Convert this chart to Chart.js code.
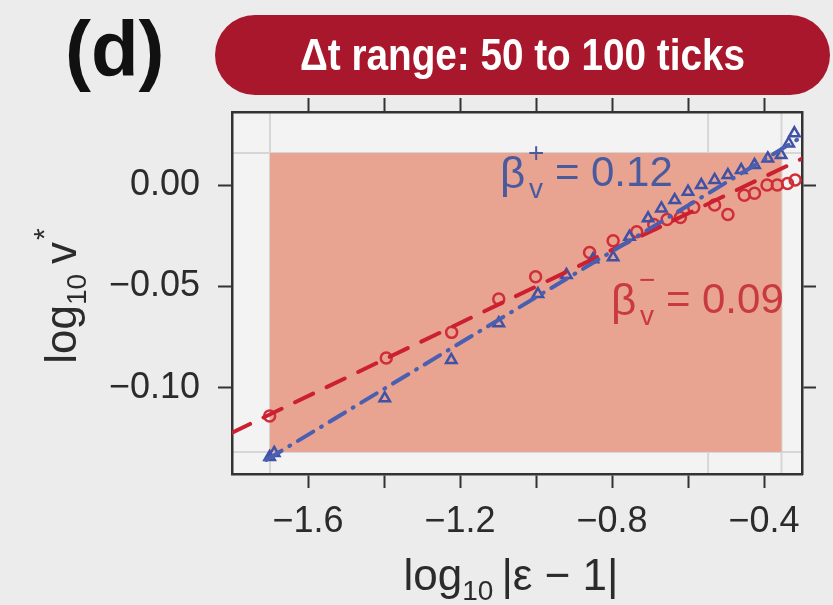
<!DOCTYPE html>
<html>
<head>
<meta charset="utf-8">
<script src="https://cdn.jsdelivr.net/npm/chart.js@4.4.0/dist/chart.umd.min.js"></script>
<style>
  html, body { margin: 0; padding: 0; background: #ececec; }
</style>
</head>
<body>
<canvas id="chart" width="833" height="605"></canvas>
<script>
// data (log10 |eps - 1| vs log10 v*)
var RED_X = [-1.701, -1.394, -1.222, -1.098, -1.001, -0.859, -0.797, -0.735, -0.690, -0.655, -0.620, -0.585, -0.530, -0.495, -0.452, -0.425, -0.392, -0.365, -0.338, -0.318];
var RED_Y = [-0.1138, -0.0852, -0.0726, -0.0562, -0.0452, -0.0332, -0.0274, -0.0230, -0.0195, -0.0170, -0.0160, -0.0110, -0.0098, -0.0145, -0.0050, -0.0040, 0.0000, 0.0000, 0.0008, 0.0025];

var BLUE_X = [-1.701, -1.689, -1.398, -1.223, -1.098, -0.995, -0.920, -0.850, -0.797, -0.754, -0.705, -0.670, -0.635, -0.600, -0.565, -0.530, -0.495, -0.460, -0.425, -0.390, -0.355, -0.335, -0.320];
var BLUE_Y = [-0.1340, -0.1320, -0.1051, -0.0862, -0.0681, -0.0537, -0.0443, -0.0366, -0.0356, -0.0255, -0.0164, -0.0115, -0.0074, -0.0033, 0.0000, 0.0025, 0.0049, 0.0074, 0.0099, 0.0131, 0.0148, 0.0205, 0.0255];

// fitted power-law lines
var FIT_RED_X = [-1.80, -0.30];
var FIT_RED_Y = [-0.1220, 0.0130];
var FIT_BLUE_X = [-1.71, -0.30];
var FIT_BLUE_Y = [-0.1355, 0.0238];

// shaded fitting window and faint guides
var RANGE_X = [-1.700, -0.354];
var RANGE_Y = [-0.1315, 0.0158];
var GUIDE_X = [-1.700, -0.547, -0.354];
var GUIDE_Y = [-0.1315, 0.0158];

var X_LABELS = [-1.6, -1.2, -0.8, -0.4];
var BETA_PLUS = '0.12';
var BETA_MINUS = '0.09';
var HEADER = '\u0394t range: 50 to 100 ticks';
var PANEL = '(d)';

var FONT = "'Liberation Sans', Arial, sans-serif";
var TXT = '#2b2b2b';
var RED = '#cf2d38';
var BLUE = '#3f52a6';

function toPoints(xs, ys) {
    var pts = [];
    for (var i = 0; i < xs.length; i++) {
        pts.push({x: xs[i], y: ys[i]});
    }
    return pts;
}

function minus(s) {
    return s.replace('-', '\u2212');
}

// draws pieces of text in a row, each with own size and vertical shift
function richText(ctx, parts, x, y, align) {
    var total = 0;
    parts.forEach(function (p) {
        ctx.font = (p.bold ? 'bold ' : '') + p.size + 'px ' + FONT;
        p.w = ctx.measureText(p.t).width;
        total += p.w + (p.gap || 0);
    });
    var cx = align === 'center' ? x - total / 2 : x;
    ctx.textAlign = 'left';
    ctx.textBaseline = 'alphabetic';
    parts.forEach(function (p) {
        ctx.font = (p.bold ? 'bold ' : '') + p.size + 'px ' + FONT;
        ctx.fillText(p.t, cx + (p.dx || 0), y + (p.dy || 0));
        cx += p.w + (p.gap || 0);
    });
}

function drawBeta(ctx, x, y, sign, value, color) {
    ctx.fillStyle = color;
    ctx.textAlign = 'left';
    ctx.textBaseline = 'alphabetic';
    ctx.font = '44px ' + FONT;
    ctx.fillText('\u03b2', x, y + 2);
    ctx.font = '28px ' + FONT;
    ctx.fillText(sign, x + 28, y - 24);
    ctx.fillText('v', x + 29, y + 12);
    ctx.font = '42px ' + FONT;
    ctx.fillText('=', x + 55, y);
    ctx.fillText(value, x + 91, y);
}

var decor = {
    id: 'decor',
    beforeDraw: function (chart) {
        var ctx = chart.ctx, a = chart.chartArea;
        var sx = chart.scales.x, sy = chart.scales.y;
        ctx.save();
        ctx.fillStyle = '#ececec';
        ctx.fillRect(0, 0, chart.width, chart.height);
        ctx.fillStyle = '#f3f3f3';
        ctx.fillRect(a.left, a.top, a.right - a.left, a.bottom - a.top);

        // faint guide lines
        ctx.strokeStyle = '#d6d6d6';
        ctx.lineWidth = 2;
        GUIDE_X.forEach(function (v) {
            var px = sx.getPixelForValue(v);
            ctx.beginPath();
            ctx.moveTo(px, a.top);
            ctx.lineTo(px, a.bottom);
            ctx.stroke();
        });
        GUIDE_Y.forEach(function (v) {
            var py = sy.getPixelForValue(v);
            ctx.beginPath();
            ctx.moveTo(a.left, py);
            ctx.lineTo(a.right, py);
            ctx.stroke();
        });

        // shaded window
        var x0 = sx.getPixelForValue(RANGE_X[0]), x1 = sx.getPixelForValue(RANGE_X[1]);
        var y0 = sy.getPixelForValue(RANGE_Y[1]), y1 = sy.getPixelForValue(RANGE_Y[0]);
        ctx.fillStyle = '#e8a391';
        ctx.fillRect(x0, y0, x1 - x0, y1 - y0);

        // header pill
        var bx = 215, by = 15, bw = 615, bh = 80, r = 40;
        ctx.fillStyle = '#a8172b';
        ctx.beginPath();
        ctx.roundRect(bx, by, bw, bh, r);
        ctx.fill();
        ctx.save();
        ctx.translate(bx + bw / 2, by + bh / 2 + 3);
        ctx.scale(0.86, 1);
        ctx.fillStyle = '#ffffff';
        ctx.font = 'bold 45px ' + FONT;
        ctx.textAlign = 'center';
        ctx.textBaseline = 'middle';
        ctx.fillText(HEADER, 0, 0);
        ctx.restore();

        // panel letter
        ctx.fillStyle = '#111111';
        ctx.font = 'bold 78px ' + FONT;
        ctx.textAlign = 'left';
        ctx.textBaseline = 'alphabetic';
        ctx.fillText(PANEL, 65, 76);
        ctx.restore();
    },
    afterDatasetsDraw: function (chart) {
        var ctx = chart.ctx;
        ctx.save();
        drawBeta(ctx, 500, 186, '+', BETA_PLUS, '#4a5a9e');
        drawBeta(ctx, 611, 313, '\u2212', BETA_MINUS, '#c83a40');
        ctx.restore();
    },
    afterDraw: function (chart) {
        var ctx = chart.ctx;
        ctx.save();
        ctx.fillStyle = TXT;
        richText(ctx, [
            {t: 'log', size: 44},
            {t: '10', size: 28, dy: 10, gap: 8},
            {t: '|\u03b5 \u2212 1|', size: 44}
        ], 511, 590, 'center');

        ctx.translate(76, 296);
        ctx.rotate(-Math.PI / 2);
        richText(ctx, [
            {t: 'log', size: 44},
            {t: '10', size: 28, dy: 10, gap: 10},
            {t: 'v', size: 44, gap: 2},
            {t: '*', size: 30, dy: -22}
        ], 0, 0, 'center');
        ctx.restore();
    }
};

function xTickColor(c) {
    return c.tick && c.tick.value < -1.75 ? 'rgba(0,0,0,0)' : '#333333';
}

var xLabel = function (v) {
    for (var i = 0; i < X_LABELS.length; i++) {
        if (Math.abs(v - X_LABELS[i]) < 1e-6) return minus(v.toFixed(1));
    }
    return '';
};

var ctx = document.getElementById('chart');
var myChart = new Chart(ctx, {
    type: 'scatter',
    data: {
        datasets: [
            {
                type: 'line',
                label: 'fit +',
                data: toPoints(FIT_BLUE_X, FIT_BLUE_Y),
                borderColor: '#4a5fb0',
                borderWidth: 4,
                borderDash: [18, 9, 1, 9],
                borderCapStyle: 'round',
                pointRadius: 0,
                fill: false
            },
            {
                type: 'line',
                label: 'fit -',
                data: toPoints(FIT_RED_X, FIT_RED_Y),
                borderColor: '#cc2030',
                borderWidth: 4,
                borderDash: [20, 15],
                borderCapStyle: 'round',
                pointRadius: 0,
                fill: false
            },
            {
                label: 'v+',
                data: toPoints(BLUE_X, BLUE_Y),
                pointStyle: 'triangle',
                pointRadius: 6,
                borderWidth: 2.5,
                borderColor: BLUE,
                backgroundColor: 'rgba(0,0,0,0)'
            },
            {
                label: 'v-',
                data: toPoints(RED_X, RED_Y),
                pointStyle: 'circle',
                pointRadius: 5.5,
                borderWidth: 2.5,
                borderColor: RED,
                backgroundColor: 'rgba(0,0,0,0)'
            }
        ]
    },
    options: {
        responsive: false,
        animation: false,
        devicePixelRatio: 1,
        layout: {padding: 0},
        plugins: {legend: {display: false}, tooltip: {enabled: false}},
        scales: {
            x: {
                type: 'linear', position: 'bottom', min: -1.8, max: -0.3,
                afterFit: function (s) { s.height = 131; },
                border: {display: true, color: '#333333', width: 2.5},
                grid: {drawOnChartArea: false, drawTicks: true, tickLength: 14, tickWidth: 2, tickColor: xTickColor},
                ticks: {stepSize: 0.2, includeBounds: false, autoSkip: false, maxRotation: 0, padding: 12,
                        color: TXT, font: {family: FONT, size: 36}, callback: xLabel}
            },
            x2: {
                type: 'linear', position: 'top', min: -1.8, max: -0.3,
                afterFit: function (s) { s.height = 112; },
                border: {display: true, color: '#333333', width: 2.5},
                grid: {drawOnChartArea: false, drawTicks: true, tickLength: 14, tickWidth: 2, tickColor: xTickColor},
                ticks: {stepSize: 0.2, includeBounds: false, autoSkip: false, maxRotation: 0,
                        callback: function () { return ''; }}
            },
            y: {
                type: 'linear', position: 'left', min: -0.1424, max: 0.036,
                afterFit: function (s) { s.width = 232; },
                border: {display: true, color: '#333333', width: 2.5},
                grid: {drawOnChartArea: false, drawTicks: true, tickLength: 14, tickWidth: 2, tickColor: '#333333'},
                ticks: {stepSize: 0.05, includeBounds: false, padding: 18, color: TXT,
                        font: {family: FONT, size: 36},
                        callback: function (v) { return minus(v.toFixed(2)); }}
            },
            y2: {
                type: 'linear', position: 'right', min: -0.1424, max: 0.036,
                afterFit: function (s) { s.width = 31; },
                border: {display: true, color: '#333333', width: 2.5},
                grid: {drawOnChartArea: false, drawTicks: true, tickLength: 14, tickWidth: 2, tickColor: '#333333'},
                ticks: {stepSize: 0.05, includeBounds: false, callback: function () { return ''; }}
            }
        }
    },
    plugins: [decor]
});
</script>
</body>
</html>
